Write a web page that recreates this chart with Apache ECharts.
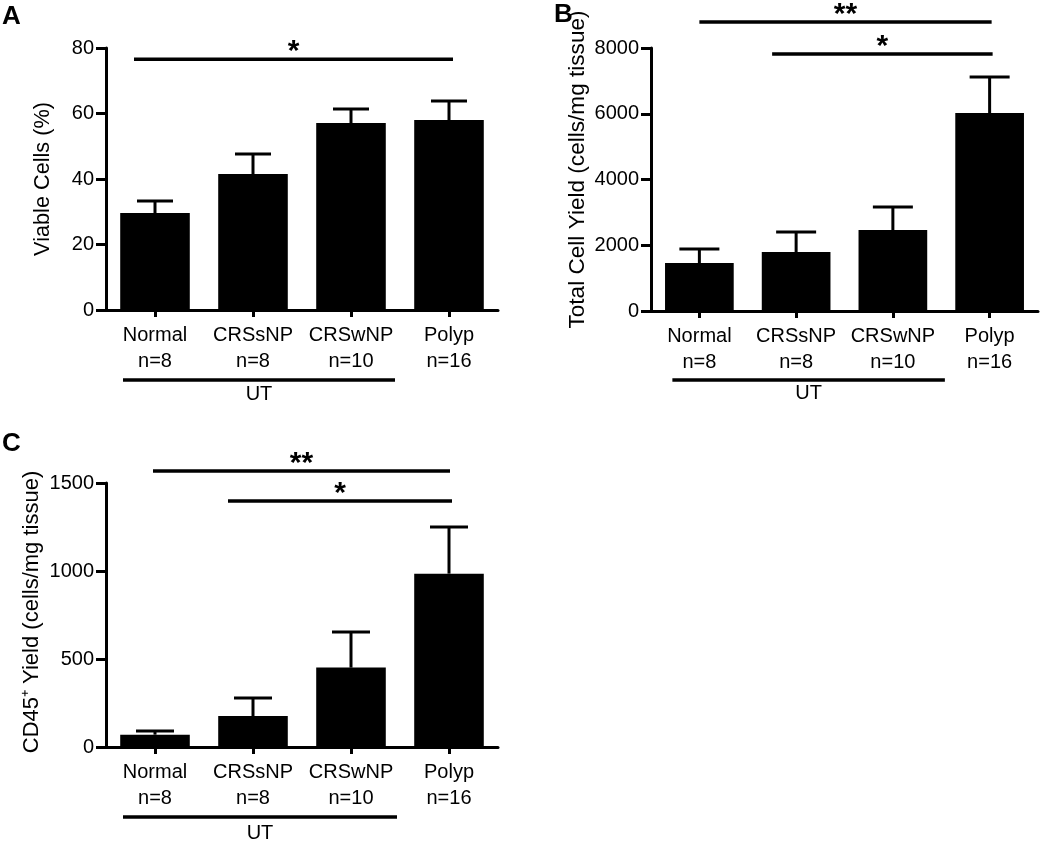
<!DOCTYPE html>
<html>
<head>
<meta charset="utf-8">
<script src="https://cdn.jsdelivr.net/npm/echarts@6/dist/echarts.min.js"></script>
<style>html,body{margin:0;padding:0;background:#fff}#c{width:1050px;height:846px}</style>
</head>
<body>
<div id="c"></div>
<script>
// ---- data ----
const categories = ['Normal', 'CRSsNP', 'CRSwNP', 'Polyp'];
const sampleSizes = ['n=8', 'n=8', 'n=10', 'n=16'];
const viableMean = [29.6, 41.5, 57.1, 58.0];
const viableSem = [3.7, 6.1, 4.3, 5.8];
const totalMean = [1460, 1795, 2464, 6023];
const totalSem = [426, 608, 699, 1095];
const cd45Mean = [70, 176, 451, 985];
const cd45Sem = [21, 102, 202, 265];
const viableTicks = [0, 80, 20];
const totalTicks = [0, 8000, 2000];
const cd45Ticks = [0, 1500, 500];
const sigA = [{ from: 'Normal', to: 'Polyp', y: 76.6, label: '*' }];
const sigB = [{ from: 'Normal', to: 'Polyp', y: 8790, label: '**' }, { from: 'CRSsNP', to: 'Polyp', y: 7820, label: '*' }];
const sigC = [{ from: 'Normal', to: 'Polyp', y: 1568, label: '**' }, { from: 'CRSsNP', to: 'Polyp', y: 1398, label: '*' }];
const groupSpan = { from: 'Normal', to: 'CRSwNP', label: 'UT' };

// ---- styles ----
const FONT = 'Liberation Sans, Arial, sans-serif';
const padsA = [[-21, 4]];
const padsB = [[0, 2], [-24, 3]];
const padsC = [[-2, 1], [-25, 3]];
const utPadsA = [-32, 44], utPadsB = [-27, 52], utPadsC = [-32, 46];

const chart = echarts.init(document.getElementById('c'), null, { renderer: 'canvas' });

function errRender(capHalf) {
  return function (params, api) {
    const x = api.value(0);
    const top = api.coord([x, api.value(2)]);
    const base = api.coord([x, api.value(1)]);
    return {
      type: 'group', children: [
        { type: 'line', shape: { x1: top[0], y1: top[1], x2: base[0], y2: base[1] }, style: { stroke: '#000', lineWidth: 3 } },
        { type: 'line', shape: { x1: top[0] - capHalf, y1: top[1], x2: top[0] + capHalf, y2: top[1] }, style: { stroke: '#000', lineWidth: 3 } }
      ]
    };
  };
}
function bracketRender(sig, pads) {
  return function (params, api) {
    const i = params.dataIndex;
    const a = api.coord([api.value(0), api.value(2)]);
    const b = api.coord([api.value(1), api.value(2)]);
    const x1 = a[0] + pads[i][0], x2 = b[0] + pads[i][1];
    return {
      type: 'group', children: [
        { type: 'line', shape: { x1: x1, y1: a[1], x2: x2, y2: a[1] }, style: { stroke: '#000', lineWidth: 3.5 } },
        { type: 'text', style: { text: sig[i].label, x: (x1 + x2) / 2, y: a[1] - 7, align: 'center', verticalAlign: 'middle', fontSize: 30, fontWeight: 'bold', fontFamily: FONT, fill: '#000' } }
      ]
    };
  };
}
function groupRender(pads, lineOff, textOff) {
  return function (params, api) {
    const a = api.coord([api.value(0), 0]);
    const b = api.coord([api.value(1), 0]);
    const x1 = a[0] + pads[0], x2 = b[0] + pads[1];
    return {
      type: 'group', children: [
        { type: 'line', shape: { x1: x1, y1: a[1] + lineOff, x2: x2, y2: a[1] + lineOff }, style: { stroke: '#000', lineWidth: 3.5 } },
        { type: 'text', style: { text: groupSpan.label, x: (x1 + x2) / 2, y: a[1] + textOff, align: 'center', verticalAlign: 'middle', fontSize: 20, fontFamily: FONT, fill: '#000' } }
      ]
    };
  };
}

const grids = [
  { left: 106, top: 48, width: 392, height: 262 },
  { left: 651, top: 48, width: 387, height: 263 },
  { left: 106, top: 483, width: 392, height: 264 }
];
const names = ['Viable Cells (%)', 'Total Cell Yield (cells/mg tissue)', 'CD45\u207A Yield (cells/mg tissue)'];
const nameGaps = [52, 62, 63];
const nameSizes = [21.7, 22.6, 22];
const namePads = [[0, 0, 0, 0], [0, 0, 0, 20], [0, 0, 0, 6]];
const ticks = [viableTicks, totalTicks, cd45Ticks];

const xAxes = grids.map((g, k) => ({
  type: 'category', gridIndex: k, data: categories,
  axisLine: { show: true, lineStyle: { color: '#000', width: 3 } },
  axisTick: { show: true, alignWithLabel: true, length: 7, lineStyle: { color: '#000', width: 3 } },
  axisLabel: {
    interval: 0, margin: 12, color: '#000', fontSize: 20, lineHeight: 26, fontFamily: FONT,
    formatter: (v, i) => v + '\n' + sampleSizes[i]
  }
}));
const yAxes = grids.map((g, k) => ({
  type: 'value', gridIndex: k, min: ticks[k][0], max: ticks[k][1], interval: ticks[k][2],
  name: names[k], nameLocation: 'middle', nameGap: nameGaps[k],
  nameTextStyle: { color: '#000', fontSize: nameSizes[k], fontFamily: FONT, padding: namePads[k] },
  axisLine: { show: true, lineStyle: { color: '#000', width: 3 } },
  axisTick: { show: true, length: 10, lineStyle: { color: '#000', width: 3 } },
  axisLabel: { color: '#000', fontSize: 20, fontFamily: FONT, margin: 12, formatter: v => String(v) },
  splitLine: { show: false }
}));

const means = [viableMean, totalMean, cd45Mean];
const sems = [viableSem, totalSem, cd45Sem];
const sigs = [sigA, sigB, sigC];
const pads = [padsA, padsB, padsC];
const utPads = [utPadsA, utPadsB, utPadsC];
const utOff = [[70, 84], [69, 82], [70, 86]];
const capHalf = [18, 20, 19];

const series = [];
for (let k = 0; k < 3; k++) {
  series.push({
    type: 'bar', xAxisIndex: k, yAxisIndex: k, data: means[k], barWidth: '71%',
    itemStyle: { color: '#000' }, silent: true
  });
  series.push({
    type: 'custom', xAxisIndex: k, yAxisIndex: k, renderItem: errRender(capHalf[k]),
    data: means[k].map((m, i) => [i, m, m + sems[k][i]]), encode: { x: 0, y: [1, 2] }, z: 3, silent: true
  });
  series.push({
    type: 'custom', xAxisIndex: k, yAxisIndex: k, renderItem: bracketRender(sigs[k], pads[k]),
    data: sigs[k].map(s => [categories.indexOf(s.from), categories.indexOf(s.to), s.y]), encode: { x: [0, 1], y: 2 }, z: 3, silent: true
  });
  series.push({
    type: 'custom', xAxisIndex: k, yAxisIndex: k, renderItem: groupRender(utPads[k], utOff[k][0], utOff[k][1]),
    data: [[categories.indexOf(groupSpan.from), categories.indexOf(groupSpan.to), 0]], encode: { x: [0, 1], y: 2 }, z: 3, silent: true
  });
}

chart.setOption({
  backgroundColor: '#fff',
  animation: false,
  grid: grids,
  xAxis: xAxes,
  yAxis: yAxes,
  series: series,
  graphic: [
    { type: 'text', left: 2, top: 4, style: { text: 'A', fontSize: 26, fontWeight: 'bold', fontFamily: FONT, fill: '#000' } },
    { type: 'text', left: 554, top: 2, style: { text: 'B', fontSize: 26, fontWeight: 'bold', fontFamily: FONT, fill: '#000' } },
    { type: 'text', left: 2, top: 431, style: { text: 'C', fontSize: 26, fontWeight: 'bold', fontFamily: FONT, fill: '#000' } }
  ]
});
</script>
</body>
</html>
